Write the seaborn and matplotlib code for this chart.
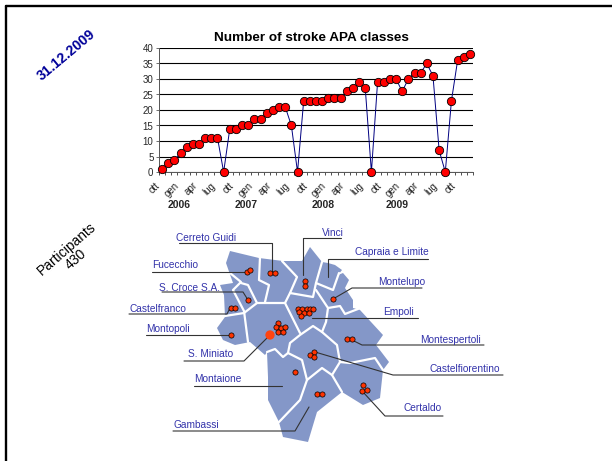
import matplotlib
matplotlib.use('Agg')
import matplotlib.pyplot as plt
from matplotlib.patches import Polygon
import pandas as pd
import seaborn as sns

# monthly number of stroke APA classes
classes = [1, 3, 4, 6, 8, 9, 9, 11, 11, 11, 0, 14, 14, 15, 15, 17, 17,
           19, 20, 21, 21, 15, 0, 23, 23, 23, 23, 24, 24, 24, 26, 27, 29,
           27, 0, 29, 29, 30, 30, 26, 30, 32, 32, 35, 31, 7, 0, 23, 36, 37, 38]
month_labels = ['ott', 'gen', 'apr', 'lug'] * 4 + ['ott']
years = ['2006', '2007', '2008', '2009']
year_pos = [2.7, 13.6, 26.2, 38.1]

# map pieces, all in picture pixels
map_outline = [(230, 251), (259, 258), (283, 261), (302, 261), (310, 247), (322, 262), (328, 263), (335, 265),
               (342, 270), (338, 275), (343, 273), (349, 280), (345, 288), (353, 300), (353, 308), (360, 310),
               (383, 335), (376, 345), (389, 362), (383, 370), (380, 398), (363, 405), (342, 392), (317, 412),
               (308, 442), (283, 437), (279, 422), (268, 400), (268, 377), (267, 352), (265, 355), (250, 342),
               (235, 345), (223, 340), (217, 328), (225, 317), (224, 295), (220, 285), (233, 283), (226, 263)]
map_borders = [
    [(260, 257), (259, 280), (269, 285), (265, 302)],
    [(230, 273), (241, 282), (233, 290), (244, 311), (248, 342)],
    [(241, 283), (248, 285), (257, 303)],
    [(225, 316), (244, 313)],
    [(244, 313), (257, 303), (285, 303), (300, 333)],
    [(282, 261), (297, 277), (290, 293), (285, 303)],
    [(290, 293), (313, 297), (316, 283), (322, 262)],
    [(316, 283), (333, 290), (339, 273)],
    [(316, 290), (328, 308), (326, 322), (322, 332)],
    [(328, 308), (340, 306), (345, 314), (358, 309)],
    [(322, 332), (337, 345), (340, 362), (332, 375)],
    [(322, 332), (313, 326), (300, 335), (290, 343), (288, 353)],
    [(340, 362), (350, 363), (375, 358), (383, 370)],
    [(332, 375), (342, 392)],
    [(267, 352), (275, 349), (283, 357), (288, 353), (302, 360), (307, 380), (322, 368), (332, 375)],
    [(307, 380), (300, 400), (279, 422)],
]

dot_x = [270.3, 275, 246.7, 250.3, 248, 230.7, 235.3, 231.3, 278, 276, 281, 285.3, 278.3, 282.7,
         305.3, 305, 297.7, 302.3, 307.3, 310, 313.3, 299.3, 304, 308.7, 301,
         314, 309.7, 314, 295, 317.3, 321.7, 347, 351.7, 333.3, 363.3, 362, 366.7]
dot_y = [273, 273, 272.3, 269.7, 300, 307.7, 308.3, 335.3, 323.3, 327.3, 327.7, 327, 331.7, 331.7,
         280.7, 286.3, 309, 309, 309, 309, 309, 312.3, 313, 312.7, 315.7,
         352.3, 355.3, 357.3, 372, 394.3, 394.3, 338.7, 338.7, 299.3, 385.3, 390.7, 390.3]

town_names = ['Cerreto Guidi', 'Fucecchio', 'S. Croce S.A.', 'Castelfranco', 'Montopoli', 'S. Miniato',
              'Montaione', 'Gambassi', 'Vinci', 'Capraia e Limite', 'Montelupo', 'Empoli',
              'Montespertoli', 'Castelfiorentino', 'Certaldo']
town_x = [176, 152, 159, 129, 146, 188, 194, 173, 322, 355, 378, 383, 420, 430, 404]
town_y = [238, 265, 288, 309, 329, 354, 379, 425, 233, 252, 282, 312, 340, 369, 408]
leaders = [
    [(179, 243), (272, 243), (272, 272)],
    [(152, 272), (247, 272)],
    [(162, 292), (243, 292), (248, 300)],
    [(129, 314), (227, 314), (230, 308)],
    [(146, 335), (232, 335)],
    [(184, 361), (244, 361), (270, 335)],
    [(194, 386), (282, 386)],
    [(173, 431), (295, 431), (309, 407)],
    [(341, 238), (303, 238), (303, 275)],
    [(428, 259), (328, 259), (328, 277)],
    [(422, 288), (352, 288), (333, 299)],
    [(418, 318), (312, 318)],
    [(484, 345), (362, 345), (350, 339)],
    [(503, 375), (393, 375), (315, 352)],
    [(443, 416), (385, 416), (363, 392)],
]

sns.set_style('white')
plt.rcParams['font.family'] = ['Liberation Sans', 'DejaVu Sans']

W, H = 612, 461
fig = plt.figure(figsize=(W / 100, H / 100), dpi=100)

# whole-picture layer in pixel coordinates
bg = fig.add_axes([0, 0, 1, 1])
bg.set_xlim(0, W)
bg.set_ylim(H, 0)
bg.axis('off')

# slide frame
bg.plot([6, 6], [H, 6], color='black', lw=1.7)
bg.plot([6, W], [6, 6], color='black', lw=1.7)

bg.text(66, 55, '31.12.2009', rotation=40, color='#000099', fontsize=10.2, fontweight='bold',
        ha='center', va='center', rotation_mode='anchor')
bg.text(71, 254, 'Participants\n430', rotation=41, color='black', fontsize=10,
        ha='center', va='center', rotation_mode='anchor', linespacing=1.0)

bg.add_patch(Polygon(map_outline, closed=True, facecolor='#8497C8', edgecolor='none', zorder=1))
for pts in map_borders:
    bg.plot([p[0] for p in pts], [p[1] for p in pts], color='white', lw=1.6, zorder=1.5)

for pts in leaders:
    bg.plot([p[0] for p in pts], [p[1] for p in pts], color='#333333', lw=0.8, zorder=2)

for name, x, y in zip(town_names, town_x, town_y):
    bg.text(x, y, name, color='#3333AA', fontsize=7.3, ha='left', va='center', zorder=4)

sns.scatterplot(x=dot_x, y=dot_y, ax=bg, color='#FF3300', edgecolor='black', linewidth=0.5, s=14, zorder=3, legend=False)
sns.scatterplot(x=[270], y=[335], ax=bg, color='#FF4411', edgecolor='none', s=45, zorder=3, legend=False)
bg.set_xlim(0, W)
bg.set_ylim(H, 0)

# line chart
ax = fig.add_axes([159 / W, 1 - 172 / H, 314 / W, 124 / H])
ax.patch.set_alpha(0)
df = pd.DataFrame({'month': range(len(classes)), 'classes': classes})
sns.lineplot(data=df, x='month', y='classes', ax=ax, color='#000080', lw=0.7, marker='o', markersize=6,
             markerfacecolor='#FF0000', markeredgecolor='black', markeredgewidth=0.6, clip_on=False, zorder=3)
ax.set_xlim(-0.5, len(classes) - 0.5)
ax.set_ylim(0, 40)
ax.set_yticks(range(0, 41, 5))
ax.tick_params(axis='y', labelsize=7, pad=2, left=True, length=2, width=0.6, color='#555555')
ax.yaxis.grid(True, color='black', lw=0.8)
ax.set_axisbelow(True)

# a mark at every month, a label every three months
ax.set_xticks([i - 0.5 for i in range(len(classes) + 1)])
ax.set_xticklabels([])
ax.tick_params(axis='x', bottom=True, length=2.5, width=0.6, color='#333333')
for i, lab in enumerate(month_labels):
    ax.annotate(lab, xy=(i * 3, 0), xycoords=('data', 'axes fraction'), xytext=(-5, -6), textcoords='offset points',
                rotation=45, fontsize=7, ha='right', va='top', rotation_mode='anchor', color='#222222')
for yr, pos in zip(years, year_pos):
    ax.annotate(yr, xy=(pos, 0), xycoords=('data', 'axes fraction'), xytext=(0, -20), textcoords='offset points',
                fontsize=7.5, fontweight='bold', ha='center', va='top')
ax.set_xlabel('')
ax.set_ylabel('')
for side in ['top', 'right']:
    ax.spines[side].set_visible(False)
for side in ['left', 'bottom']:
    ax.spines[side].set_color('#555555')
    ax.spines[side].set_linewidth(0.7)
ax.set_title('Number of stroke APA classes', fontsize=9.7, fontweight='bold', pad=5, x=0.484, color='black')

fig.savefig('out.png', dpi=100)
